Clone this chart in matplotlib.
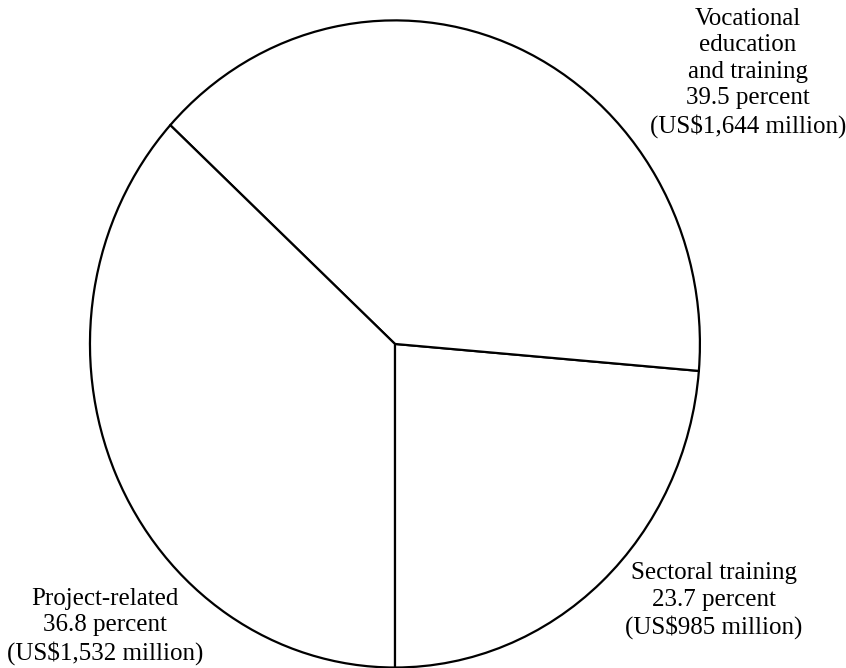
import matplotlib.pyplot as plt

# Spending by category, US$ million
categories = ['Sectoral training', 'Vocational\neducation\nand training', 'Project-related']
amounts = [985, 1644, 1532]
percents = [23.7, 39.5, 36.8]

fig = plt.figure(figsize=(8.46, 6.68), dpi=100)
ax = fig.add_axes([0, 0, 1, 1])

ax.pie(amounts, startangle=-90, counterclock=True, colors=['white'] * 3,
       wedgeprops=dict(edgecolor='black', linewidth=1.6))

# the pie is drawn slightly taller than wide
ax.set_aspect('auto')
ax.set_xlim(-1.295, 1.479)
ax.set_ylim(-1.0015, 1.063)
ax.axis('off')

# label positions for each wedge
label_xy = [(1.046, -0.794), (1.157, 0.838), (-0.951, -0.872)]

for name, amt, pct, (x, y) in zip(categories, amounts, percents, label_xy):
    text = f'{name}\n{pct} percent\n(US${amt:,} million)'
    ax.text(x, y, text, ha='center', va='center', fontsize=18,
            family='Liberation Serif', linespacing=1.26)

fig.savefig('out.png', dpi=100)
